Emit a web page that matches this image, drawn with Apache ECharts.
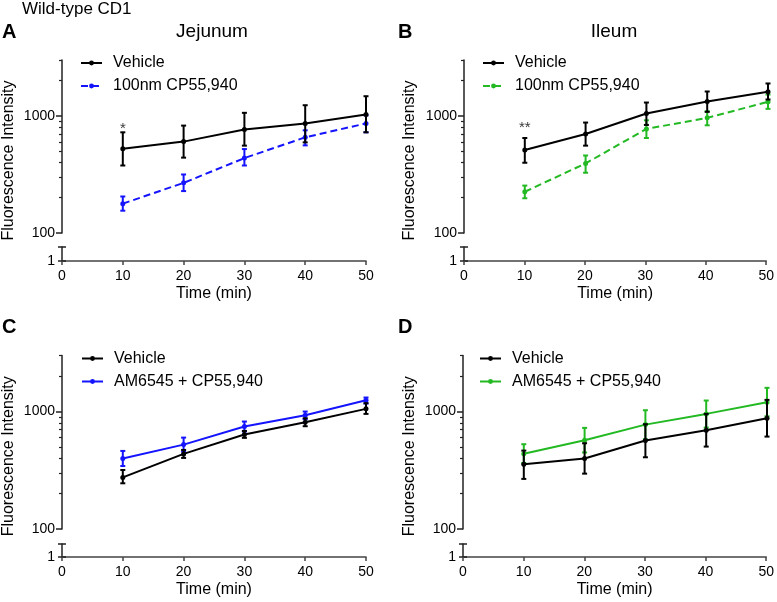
<!DOCTYPE html>
<html><head><meta charset="utf-8">
<script src="https://cdn.jsdelivr.net/npm/echarts@6/dist/echarts.min.js"></script>
<style>html,body{margin:0;padding:0;background:#fff}#c{width:777px;height:602px}</style>
</head><body><div id="c"></div>
<script>
// ---------- data ----------
const times = [10, 20, 30, 40, 50];
const yMajorTicks = [100, 1000];
const yMinorTicks = [200, 300, 400, 500, 600, 700, 800, 900, 2000, 3000];

// A: Jejunum
const jejVehMean = [525, 603, 764, 859, 1026];
const jejVehLow  = [377, 440, 557, 594, 724];
const jejVehHigh = [724, 826, 1062, 1233, 1472];
const jejCpMean  = [178, 268, 436, 656, 862];
const jejCpLow   = [155, 228, 377, 560, 724];
const jejCpHigh  = [205, 316, 521, 753, 1010];
// B: Ileum
const ileVehMean = [511, 701, 1047, 1327, 1606];
const ileVehLow  = [398, 557, 837, 1082, 1380];
const ileVehHigh = [647, 877, 1300, 1615, 1891];
const ileCpMean  = [225, 393, 774, 962, 1318];
const ileCpLow   = [198, 327, 647, 831, 1148];
const ileCpHigh  = [254, 459, 917, 1095, 1523];
// C: Jejunum AM6545
const jejAmVehMean = [275, 436, 637, 811, 1054];
const jejAmVehLow  = [245, 403, 597, 750, 955];
const jejAmVehHigh = [318, 471, 684, 877, 1178];
const jejAmMean    = [398, 523, 745, 931, 1250];
const jejAmLow     = [344, 456, 676, 861, 1170];
const jejAmHigh    = [462, 600, 822, 1000, 1316];
// D: Ileum AM6545
const ileAmVehMean = [356, 398, 566, 693, 877];
const ileAmVehLow  = [267, 296, 408, 503, 612];
const ileAmVehHigh = [465, 537, 780, 955, 1257];
const ileAmMean    = [438, 570, 774, 955, 1202];
const ileAmLow     = [365, 448, 581, 731, 912];
const ileAmHigh    = [527, 726, 1026, 1241, 1592];

// significance marks
const starA = {x: 10, y: 770, text: '*'};
const starB = {x: 10, y: 790, text: '**'};

// ---------- layout / style ----------
const FONT = "'Liberation Sans', Arial, Helvetica, sans-serif";
const BLUE = '#1414ff', GREEN = '#22b922', BLACK = '#000';

const panels = [
  {letter:'A', title:'Jejunum', L:62, W:304, T:60, B:233, lowT:247, lowB:261,
   veh:[jejVehMean, jejVehLow, jejVehHigh], drug:[jejCpMean, jejCpLow, jejCpHigh],
   drugName:'100nm CP55,940', color:BLUE, dashed:true, star:starA, legendL:80},
  {letter:'B', title:'Ileum', L:464, W:304, T:60, B:233, lowT:247, lowB:261,
   veh:[ileVehMean, ileVehLow, ileVehHigh], drug:[ileCpMean, ileCpLow, ileCpHigh],
   drugName:'100nm CP55,940 ', color:GREEN, dashed:true, star:starB, legendL:482},
  {letter:'C', title:'', L:62, W:304, T:355.5, B:529, lowT:544, lowB:557,
   veh:[jejAmVehMean, jejAmVehLow, jejAmVehHigh], drug:[jejAmMean, jejAmLow, jejAmHigh],
   drugName:'AM6545 + CP55,940', color:BLUE, dashed:false, star:null, legendL:81},
  {letter:'D', title:'', L:463, W:304, T:355.5, B:529, lowT:544, lowB:557,
   veh:[ileAmVehMean, ileAmVehLow, ileAmVehHigh], drug:[ileAmMean, ileAmLow, ileAmHigh],
   drugName:'AM6545 + CP55,940 ', color:GREEN, dashed:false, star:null, legendL:479}
];

function errSeries(name, color, xi, yi, lo, hi, z) {
  return {
    type: 'custom', name: name, xAxisIndex: xi, yAxisIndex: yi, z: z, silent: true,
    data: times.map((t, k) => [t, lo[k], hi[k]]),
    encode: {x: 0, y: [1, 2]},
    renderItem: function (params, api) {
      const x = api.value(0);
      const a = api.coord([x, api.value(1)]);
      const b = api.coord([x, api.value(2)]);
      const w = 2.5;
      const st = {stroke: color, lineWidth: 2};
      return {type: 'group', children: [
        {type: 'line', shape: {x1: a[0], y1: a[1], x2: b[0], y2: b[1]}, style: st},
        {type: 'line', shape: {x1: a[0] - w, y1: a[1], x2: a[0] + w, y2: a[1]}, style: st},
        {type: 'line', shape: {x1: b[0] - w, y1: b[1], x2: b[0] + w, y2: b[1]}, style: st}
      ]};
    }
  };
}

const grid = [], xAxis = [], yAxis = [], series = [], legend = [], graphic = [];
const axisColor = '#222';

panels.forEach((p, i) => {
  grid.push({left: p.L, top: p.T, width: p.W, height: p.B - p.T});
  grid.push({left: p.L, top: p.lowT, width: p.W, height: p.lowB - p.lowT});
  const xm = 2 * i;
  xAxis.push({type: 'value', gridIndex: 2 * i, min: 0, max: 50, show: false});
  xAxis.push({type: 'value', gridIndex: 2 * i + 1, min: 0, max: 50, interval: 10,
    axisLine: {lineStyle: {color: '#444', width: 1.5}},
    axisTick: {length: 4, lineStyle: {color: '#444', width: 1.5}},
    axisLabel: {fontSize: 14, color: '#000', margin: 8, fontFamily: FONT},
    splitLine: {show: false},
    name: 'Time (min)', nameLocation: 'middle', nameGap: 25,
    nameTextStyle: {fontSize: 16, color: '#000', fontFamily: FONT}});
  const ym = 4 * i;
  yAxis.push({type: 'log', logBase: 10, gridIndex: 2 * i, position: 'left', min: 100, max: 3000,
    axisLine: {show: true, lineStyle: {color: axisColor, width: 1.5}},
    axisTick: {show: true, length: 6, customValues: yMajorTicks, lineStyle: {color: axisColor, width: 1.5}},
    axisLabel: {customValues: yMajorTicks, fontSize: 14, color: '#000', margin: 7, fontFamily: FONT,
      formatter: v => String(v)},
    splitLine: {show: false}, minorTick: {show: false}});
  yAxis.push({type: 'log', logBase: 10, gridIndex: 2 * i, position: 'left', min: 100, max: 3000,
    axisLine: {show: false},
    axisTick: {show: true, length: 3, customValues: yMinorTicks, lineStyle: {color: axisColor, width: 1.2}},
    axisLabel: {show: false}, splitLine: {show: false}});
  yAxis.push({type: 'value', gridIndex: 2 * i + 1, position: 'left', min: 1, max: 2, interval: 1,
    axisLine: {show: true, lineStyle: {color: axisColor, width: 1.5}},
    axisTick: {show: true, length: 4, lineStyle: {color: axisColor, width: 1.5}},
    axisLabel: {fontSize: 14, color: '#000', margin: 7, fontFamily: FONT,
      formatter: v => (v === 1 ? '1' : '')},
    splitLine: {show: false}});
  yAxis.push({type: 'value', gridIndex: 2 * i + 1, position: 'left', min: 1, max: 2, interval: 1,
    axisLine: {show: false},
    axisTick: {show: true, inside: true, length: 4, lineStyle: {color: axisColor, width: 1.5}},
    axisLabel: {show: false}, splitLine: {show: false}});

  const drugLine = {type: 'line', name: p.drugName, xAxisIndex: xm, yAxisIndex: ym, z: 2,
    data: times.map((t, k) => [t, p.drug[0][k]]),
    symbol: 'circle', symbolSize: 5, color: p.color,
    itemStyle: {color: p.color},
    lineStyle: {color: p.color, width: 2, type: p.dashed ? [7, 4] : 'solid'}};
  const vehLine = {type: 'line', name: 'Vehicle', xAxisIndex: xm, yAxisIndex: ym, z: 4,
    data: times.map((t, k) => [t, p.veh[0][k]]),
    symbol: 'circle', symbolSize: 5, color: BLACK,
    itemStyle: {color: BLACK}, lineStyle: {color: BLACK, width: 2}};
  series.push(errSeries('err-drug-' + i, p.color, xm, ym, p.drug[1], p.drug[2], 2));
  series.push(drugLine);
  series.push(errSeries('err-veh-' + i, BLACK, xm, ym, p.veh[1], p.veh[2], 4));
  series.push(vehLine);
  if (p.star) {
    series.push({type: 'scatter', name: 'sig-' + i, xAxisIndex: xm, yAxisIndex: ym, z: 5,
      data: [[p.star.x, p.star.y]], symbolSize: 2, itemStyle: {color: 'rgba(0,0,0,0)'}, silent: true,
      label: {show: true, position: 'inside', formatter: p.star.text, fontSize: 15, color: '#000', fontFamily: FONT}});
  }
  legend.push({left: p.legendL, top: p.T - 5, orient: 'vertical', itemWidth: 21, itemHeight: 6, itemGap: 7,
    padding: 0, selectedMode: false,
    textStyle: {fontSize: 16, color: '#000', fontFamily: FONT, padding: [0, 0, 0, 6]},
    data: ['Vehicle', p.drugName]});

  const col = p.L < 300 ? 0 : 1;
  graphic.push({type: 'text', x: col ? 398 : 2, y: p.T - 28, style: {text: p.letter, font: 'bold 20px ' + FONT,
    fill: '#000', verticalAlign: 'middle', align: 'left'}});
  if (p.title) {
    graphic.push({type: 'text', x: p.L + p.W / 2 - 2, y: p.T - 28, style: {text: p.title, font: '19px ' + FONT,
      fill: '#000', verticalAlign: 'middle', align: 'center'}});
  }
  graphic.push({type: 'text', x: col ? 410 : 9, y: (p.T + p.lowB) / 2, rotation: Math.PI / 2,
    style: {text: 'Fluorescence Intensity', font: '16px ' + FONT, fill: '#000', align: 'center', verticalAlign: 'middle'}});
});

graphic.push({type: 'text', x: 22, y: 9, style: {text: 'Wild-type CD1', font: '17px ' + FONT, fill: '#000',
  verticalAlign: 'middle', align: 'left'}});

const chart = echarts.init(document.getElementById('c'), null, {renderer: 'canvas'});
chart.setOption({
  animation: false,
  backgroundColor: '#fff',
  textStyle: {fontFamily: FONT},
  grid, xAxis, yAxis, series, legend, graphic
});
</script></body></html>
